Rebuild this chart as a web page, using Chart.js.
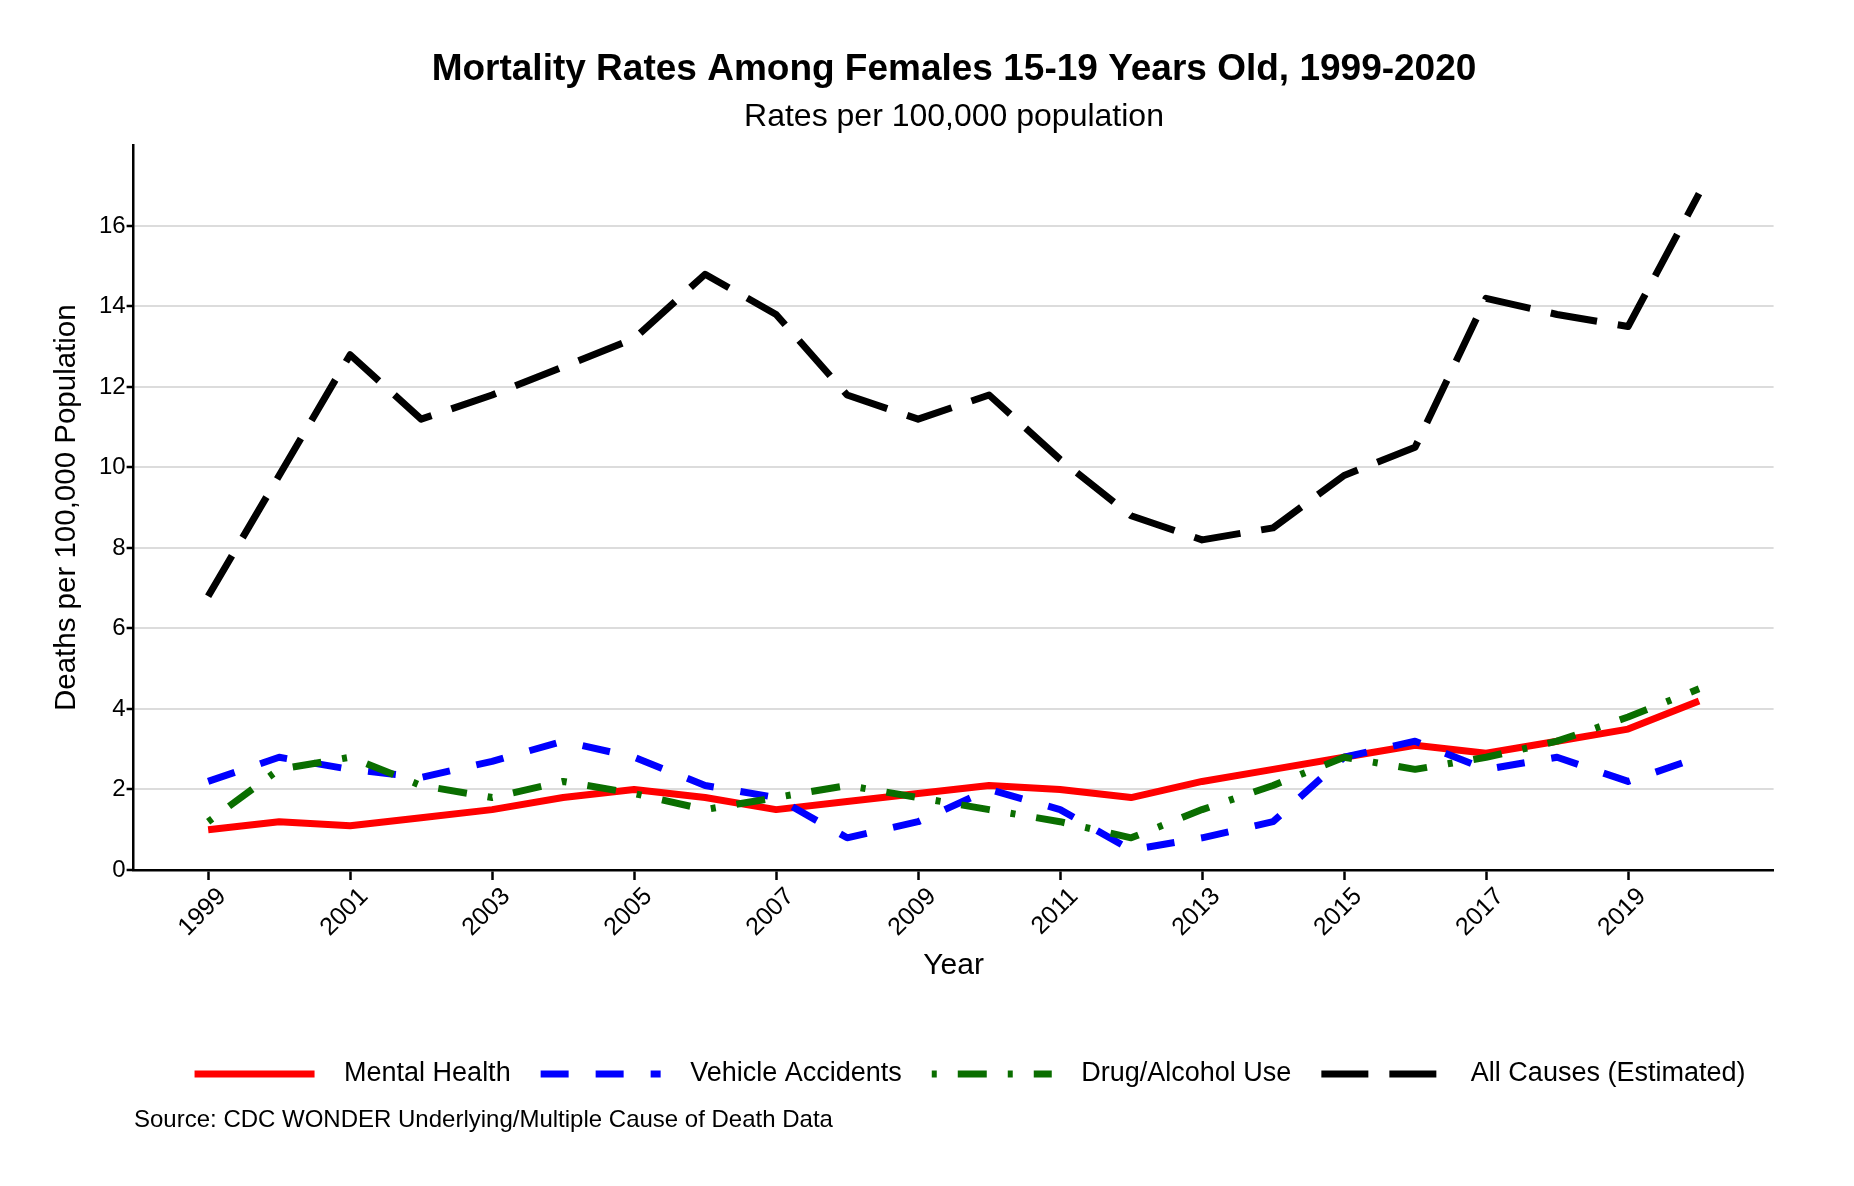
<!DOCTYPE html>
<html lang="en">
<head>
<meta charset="UTF-8">
<title>Mortality Rates Among Females 15-19 Years Old, 1999-2020</title>
<script src="https://cdn.jsdelivr.net/npm/chart.js"></script>
<style>
  html, body { margin: 0; padding: 0; background: #fff; }
  #wrap { position: relative; width: 1854px; height: 1186px; }
  #source { position: absolute; left: 134px; top: 1105px; font: 24px "Liberation Sans", Arial, sans-serif; color: #000; white-space: nowrap; }
</style>
</head>
<body>
<div id="wrap">
  <canvas id="chart"></canvas>
  <div id="source">Source: CDC WONDER Underlying/Multiple Cause of Death Data</div>
</div>
<script>
// data
const years = [1999, 2000, 2001, 2002, 2003, 2004, 2005, 2006, 2007, 2008, 2009, 2010,
               2011, 2012, 2013, 2014, 2015, 2016, 2017, 2018, 2019, 2020];
const mentalHealth = [1.0, 1.2, 1.1, 1.3, 1.5, 1.8, 2.0, 1.8, 1.5, 1.7, 1.9, 2.1,
                      2.0, 1.8, 2.2, 2.5, 2.8, 3.1, 2.9, 3.2, 3.5, 4.2];
const vehicleAccidents = [2.2, 2.8, 2.5, 2.3, 2.7, 3.2, 2.8, 2.1, 1.8, 0.8, 1.2, 2.0,
                          1.5, 0.5, 0.8, 1.2, 2.8, 3.2, 2.5, 2.8, 2.2, 2.8];
const drugAlcohol = [1.2, 2.5, 2.8, 2.1, 1.8, 2.2, 1.9, 1.5, 1.8, 2.1, 1.8, 1.5,
                     1.2, 0.8, 1.5, 2.1, 2.8, 2.5, 2.8, 3.2, 3.8, 4.5];
const allCauses = [6.8, 9.8, 12.8, 11.2, 11.8, 12.5, 13.2, 14.8, 13.8, 11.8, 11.2, 11.8,
                   10.2, 8.8, 8.2, 8.5, 9.8, 10.5, 14.2, 13.8, 13.5, 16.8];
const xTicks = [1999, 2001, 2003, 2005, 2007, 2009, 2011, 2013, 2015, 2017, 2019];
const yTicks = [0, 2, 4, 6, 8, 10, 12, 14, 16];

const toPoints = vals => years.map((yr, i) => ({ x: yr, y: vals[i] }));

Chart.defaults.font.family = '"Liberation Sans", Arial, sans-serif';
Chart.defaults.color = '#000';

const SAMPLE_LEN = 120;   // visible length of a legend line sample
const SAMPLE_BOX = 136;   // box reserved for it (leaves a wider gap before the text)

function line(label, vals, color, dash, order) {
    return {
        label: label,
        data: toPoints(vals),
        borderColor: color,
        backgroundColor: color,
        borderWidth: 7,
        borderDash: dash,
        borderCapStyle: 'butt',
        borderJoinStyle: 'round',
        pointRadius: 0,
        pointHoverRadius: 0,
        tension: 0,
        fill: false,
        order: order
    };
}

// repeat a dash pattern up to len px, then leave the rest of the box blank
function sampleDash(dash, len) {
    if (!dash.length) return [len, 1000];
    const out = [];
    let sum = 0, i = 0;
    while (sum < len) {
        const seg = Math.min(dash[i % dash.length], len - sum);
        out.push(seg);
        sum += seg;
        i++;
    }
    if (out.length % 2 === 0) out[out.length - 1] = 1000;
    else out.push(1000);
    return out;
}

const shiftLegend = {
    id: 'shiftLegend',
    afterLayout(chart) {
        chart.legend.left += 16;
        chart.legend.right += 16;
    }
};

const ctx = document.getElementById('chart').getContext('2d');
new Chart(ctx, {
    type: 'line',
    data: {
        datasets: [
            line('Mental Health', mentalHealth, '#ff0000', [], 4),
            line('Vehicle Accidents', vehicleAccidents, '#0000ff', [28, 27], 3),
            line('Drug/Alcohol Use', drugAlcohol, '#0a6e00', [5, 21, 29, 21], 2),
            line('All Causes (Estimated)', allCauses, '#000000', [47, 21], 1)
        ]
    },
    plugins: [shiftLegend],
    options: {
        responsive: true,
        maintainAspectRatio: false,
        animation: false,
        layout: { padding: { left: 54, right: 0, top: 0, bottom: 88.5 } },
        plugins: {
            title: {
                display: true,
                text: 'Mortality Rates Among Females 15-19 Years Old, 1999-2020',
                font: { size: 37, weight: 'bold' },
                color: '#000',
                padding: { top: 47.6, bottom: 0 }
            },
            subtitle: {
                display: true,
                text: 'Rates per 100,000 population',
                font: { size: 32 },
                color: '#000',
                padding: { top: 5.9, bottom: 9.1 }
            },
            legend: {
                position: 'bottom',
                labels: {
                    usePointStyle: true,
                    pointStyleWidth: SAMPLE_BOX,
                    padding: 30,
                    font: { size: 27 },
                    color: '#000',
                    generateLabels: chart => chart.data.datasets.map((ds, i) => ({
                        text: ds.label,
                        fillStyle: ds.borderColor,
                        strokeStyle: ds.borderColor,
                        lineWidth: ds.borderWidth,
                        lineDash: sampleDash(ds.borderDash, SAMPLE_LEN),
                        lineCap: 'butt',
                        pointStyle: 'line',
                        fontColor: '#000',
                        hidden: false,
                        datasetIndex: i
                    }))
                }
            },
            tooltip: { enabled: false }
        },
        scales: {
            x: {
                type: 'linear',
                min: 1997.95,
                max: 2021.05,
                afterBuildTicks: a => { a.ticks = xTicks.map(v => ({ value: v })); },
                afterFit: a => { a.height = 160.5; },
                grid: { drawOnChartArea: false, tickColor: '#000', tickLength: 10, tickWidth: 2.5 },
                border: { color: '#000', width: 2.5 },
                ticks: {
                    font: { size: 25 },
                    color: '#000',
                    autoSkip: false,
                    minRotation: 45,
                    maxRotation: 45,
                    padding: 2,
                    labelOffset: 14,
                    callback: v => String(v)
                },
                title: {
                    display: true,
                    text: 'Year',
                    font: { size: 30 },
                    color: '#000',
                    padding: { top: 0, bottom: 46.3 }
                }
            },
            y: {
                min: 0,
                max: 18,
                afterBuildTicks: a => { a.ticks = yTicks.map(v => ({ value: v })); },
                afterFit: a => { a.width = 79.6; },
                grid: {
                    color: c => (c.tick && c.tick.value === 0) ? 'rgba(0,0,0,0)' : '#dcdcdc',
                    lineWidth: 2,
                    tickColor: '#000',
                    tickLength: 7,
                    tickWidth: 2.5
                },
                border: { color: '#000', width: 2.5 },
                ticks: { font: { size: 24 }, color: '#000', padding: 1, callback: v => String(v) },
                title: {
                    display: true,
                    text: 'Deaths per 100,000 Population',
                    font: { size: 29.5 },
                    color: '#000',
                    padding: { top: -4.4, bottom: 0 }
                }
            },
            yRight: {
                type: 'linear',
                position: 'right',
                display: true,
                grid: { display: false },
                border: { display: false },
                ticks: { display: false },
                afterFit: a => { a.width = 80.4; }
            }
        }
    }
});
</script>
</body>
</html>
